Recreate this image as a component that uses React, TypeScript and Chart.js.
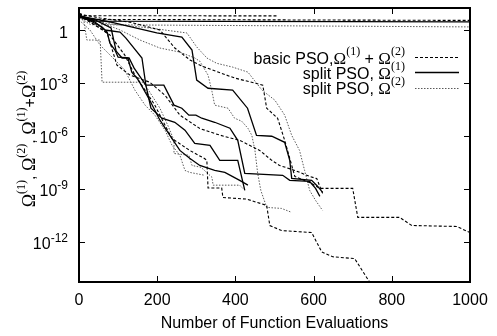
import { useEffect, useRef } from 'react';
import { Chart, registerables } from 'chart.js';

Chart.register(...registerables);

type Pt = [number, number];

// ---- axis ticks / labels ----
const xTickValues = [0, 200, 400, 600, 800, 1000];
const xTickLabels = ['0', '200', '400', '600', '800', '1000'];
const yTickValues = [1e-12, 1e-9, 1e-6, 1e-3, 1];
const yTickLabels = ['10^-12', '10^-9', '10^-6', '10^-3', '1'];
const xTitle = 'Number of Function Evaluations';
const yTitle = 'Ω^(1), Ω^(2), Ω^(1)+Ω^(2)';
const legendLabels = ['basic PSO,Ω^(1) + Ω^(2)', 'split PSO, Ω^(1)', 'split PSO, Ω^(2)'];
const xRange = [0, 1000];
const yRange = [5.2e-15, 17.7];

// ---- basic PSO, Ω(1)+Ω(2) (dashed) ----
const basicRun1: Pt[] = [[0, 9], [15, 6.5], [506, 6.3]];
const basicRun2: Pt[] = [[0, 8], [25, 4], [1000, 3.5]];
const basicRun3: Pt[] = [[0, 8], [54, 4.8], [130, 2.8], [207, 1], [245, 0.095], [284, 0.02], [314, 9e-3], [398, 1.9e-3], [470, 7.5e-4], [480, 3.7e-5], [508, 1e-5], [526, 5.6e-7], [552, 5e-9], [595, 2e-9], [616, 1.05e-9], [700, 1.05e-9], [713, 2.4e-11], [820, 2.4e-11], [851, 8.3e-12], [966, 7.3e-12], [1000, 3.3e-12]];
const basicRun4: Pt[] = [[0, 7], [41, 1.9], [79, 0.52], [117, 0.038], [143, 2.8e-3], [169, 3.9e-4], [194, 5.5e-5], [220, 4e-6], [238, 7e-7], [283, 1.5e-7], [319, 5.5e-8], [327, 4.1e-8], [330, 1.1e-9], [365, 1.1e-9], [368, 3.2e-10], [429, 2.6e-10], [455, 1.7e-10], [480, 1.15e-10], [488, 8.3e-12], [518, 4.3e-12], [595, 3.3e-12], [621, 2.6e-13], [649, 1.4e-13], [705, 1.1e-13], [750, 3e-15]];
const basicRun5: Pt[] = [[0, 6.3], [54, 1.3], [72, 0.68], [97, 0.0103], [130, 2.8e-3], [181, 1.1e-3], [220, 2e-4], [258, 1.5e-5], [309, 2.6e-6], [360, 1.1e-6], [411, 5.6e-7], [462, 1.5e-7], [493, 4.1e-8], [513, 2.1e-8], [552, 1.1e-8], [590, 5e-9], [608, 3.8e-9], [623, 5.5e-10]];

// ---- split PSO, Ω(1) (solid) ----
const split1Run1: Pt[] = [[0, 7], [40, 3.2], [1000, 2.9]];
const split1Run2: Pt[] = [[0, 5.5], [41, 2.85], [66, 1], [105, 0.77], [120, 0.35], [161, 0.026], [171, 7.5e-4], [184, 3.7e-5], [212, 1e-5], [245, 5.9e-6], [271, 2.1e-6], [296, 3.8e-7], [335, 2.9e-7], [360, 4.1e-8], [406, 4.1e-8], [424, 8.1e-10]];
const split1Run3: Pt[] = [[0, 6.3], [79, 2.85], [199, 0.68], [263, 0.4], [289, 0.073], [301, 1.45e-3], [330, 5e-4], [393, 3.9e-4], [431, 3.7e-5], [454, 1.07e-6], [493, 9.5e-7], [526, 4.3e-7], [539, 4.1e-8], [544, 3.9e-9], [595, 3e-9], [610, 1.4e-9], [623, 6.3e-10]];
const split1Run4: Pt[] = [[0, 5.5], [41, 3.7], [82, 1.3], [95, 0.064], [110, 0.026], [128, 0.026], [141, 6.9e-3], [171, 7.5e-4], [217, 7.5e-4], [243, 5.5e-5], [263, 3.7e-5], [281, 1.5e-5], [299, 1.5e-5], [314, 1e-5], [347, 5.9e-6], [386, 2.7e-6], [406, 5.6e-7], [424, 7.5e-9], [521, 5.8e-9], [539, 3e-9], [590, 2.6e-9], [605, 1.05e-9], [616, 3.7e-10]];
const split1Run5: Pt[] = [[0, 7.1], [59, 1.5], [72, 0.77], [79, 0.18], [92, 0.073], [100, 0.029], [125, 0.026], [135, 4.1e-3], [148, 1.9e-3], [156, 1e-3], [181, 1.05e-4], [207, 7.7e-6], [232, 1.1e-6], [258, 1.5e-7], [283, 5.4e-8], [309, 2.1e-8], [347, 1.1e-8], [373, 8.5e-9], [411, 3e-9], [432, 1.6e-9]];

// ---- split PSO, Ω(2) (dotted) ----
const split2Run1: Pt[] = [[0, 5], [30, 2], [1000, 1.5]];
const split2Run2: Pt[] = [[0, 8.1], [13, 2.85], [20, 0.27], [54, 0.27], [59, 1.1e-3], [164, 1.1e-3], [181, 3e-4], [207, 3.7e-5], [227, 4e-6], [243, 5.6e-7], [243, 1e-7], [281, 8e-8], [289, 2.1e-8], [312, 1.65e-8], [340, 4.5e-9], [343, 1.6e-9], [411, 1.6e-9], [419, 1.05e-9]];
const split2Run3: Pt[] = [[0, 6.3], [54, 2.85], [105, 1], [156, 0.27], [207, 0.095], [258, 0.056], [296, 0.026], [309, 0.017], [330, 2.8e-3], [340, 3.4e-4], [347, 5.5e-5], [381, 3.7e-5], [398, 1e-5], [416, 6.8e-6], [432, 2.7e-6], [442, 1.07e-6], [450, 1.5e-7], [457, 7.5e-9], [465, 8.1e-10], [480, 8.8e-11], [518, 7.7e-11], [544, 4.6e-11]];
const split2Run4: Pt[] = [[0, 4.8], [79, 2.2], [181, 1.3], [276, 0.68], [301, 0.11], [327, 0.026], [352, 0.013], [393, 7.9e-3], [432, 4.1e-3], [468, 3.9e-4], [501, 1.05e-4], [526, 1.5e-5], [544, 1.07e-6], [564, 1.5e-7], [577, 1.1e-8], [590, 8.1e-10], [605, 2.2e-10], [623, 5.9e-11]];
const split2Run5: Pt[] = [[0, 3.7], [28, 1], [54, 0.14], [92, 0.02], [117, 5.4e-3], [143, 3.9e-4], [169, 5.5e-5], [194, 1.5e-5], [220, 2.1e-6], [238, 2.9e-7], [258, 8e-8], [271, 1.1e-8], [283, 8.5e-9], [322, 5.8e-9]];

const basicRuns = [basicRun1, basicRun2, basicRun3, basicRun4, basicRun5];
const split1Runs = [split1Run1, split1Run2, split1Run3, split1Run4, split1Run5];
const split2Runs = [split2Run1, split2Run2, split2Run3, split2Run4, split2Run5];

const SANS = '"Liberation Sans", Arial, Helvetica, sans-serif';
const SERIF = '"Liberation Serif", "Times New Roman", serif';

const STYLES = [
  { color: '#000000', width: 1.1, dash: [3, 2] },
  { color: '#000000', width: 1.3, dash: [] as number[] },
  { color: '#5a5a5a', width: 1, dash: [1.5, 1.5] },
];

type Part = { t: string; f: string; dy: number };

function parseRich(s: string, size: number, omegaSize: number, supSize: number, supRaise: number): Part[] {
  const parts: Part[] = [];
  let buf = '';
  const flush = () => {
    if (buf) {
      parts.push({ t: buf, f: `${size}px ${SANS}`, dy: 0 });
      buf = '';
    }
  };
  for (let i = 0; i < s.length; i++) {
    const c = s[i];
    if (c === '^') {
      flush();
      let sup = '';
      if (s[i + 1] === '(') {
        const j = s.indexOf(')', i);
        sup = s.slice(i + 1, j + 1);
        i = j;
      } else {
        sup = s.slice(i + 1);
        i = s.length;
      }
      const serif = sup.startsWith('(');
      parts.push({ t: sup, f: `${supSize}px ${serif ? SERIF : SANS}`, dy: -supRaise });
    } else if (c === 'Ω') {
      flush();
      parts.push({ t: 'Ω', f: `${omegaSize}px ${SERIF}`, dy: 0 });
    } else {
      buf += c;
    }
  }
  flush();
  return parts;
}

function drawParts(ctx: CanvasRenderingContext2D, parts: Part[], x: number, y: number, align: 'left' | 'right' | 'center') {
  let w = 0;
  for (const p of parts) {
    ctx.font = p.f;
    w += ctx.measureText(p.t).width;
  }
  let cx = align === 'left' ? x : align === 'right' ? x - w : x - w / 2;
  ctx.textAlign = 'left';
  ctx.textBaseline = 'alphabetic';
  for (const p of parts) {
    ctx.font = p.f;
    ctx.fillText(p.t, cx, y + p.dy);
    cx += ctx.measureText(p.t).width;
  }
}

const decorPlugin = {
  id: 'decor',
  afterDraw(chart: any) {
    const { ctx, chartArea: a, scales } = chart;
    const xs = scales.x;
    const ys = scales.y;
    ctx.save();
    ctx.fillStyle = '#000';
    ctx.strokeStyle = '#000';
    ctx.setLineDash([]);
    ctx.lineWidth = 2;
    ctx.strokeRect(a.left, a.top, a.right - a.left, a.bottom - a.top);

    ctx.lineWidth = 1;
    const tl = 6;
    xTickValues.forEach((v, i) => {
      const px = Math.round(xs.getPixelForValue(v)) + 0.5;
      if (v > xRange[0] && v < xRange[1]) {
        ctx.beginPath();
        ctx.moveTo(px, a.bottom);
        ctx.lineTo(px, a.bottom - tl);
        ctx.moveTo(px, a.top);
        ctx.lineTo(px, a.top + tl);
        ctx.stroke();
      }
      ctx.font = `16px ${SANS}`;
      ctx.textAlign = 'center';
      ctx.textBaseline = 'alphabetic';
      ctx.fillText(xTickLabels[i], xs.getPixelForValue(v), 305);
    });
    yTickValues.forEach((v, i) => {
      const py = Math.round(ys.getPixelForValue(v)) + 0.5;
      ctx.beginPath();
      ctx.moveTo(a.left, py);
      ctx.lineTo(a.left + tl, py);
      ctx.moveTo(a.right, py);
      ctx.lineTo(a.right - tl, py);
      ctx.stroke();
      const lab = yTickLabels[i];
      const parts = parseRich(lab, 16, 16, 12, 7);
      const base = ys.getPixelForValue(v) + (lab.includes('^') ? 7 : 8);
      drawParts(ctx, parts, 68, base, 'right');
    });

    // x title
    ctx.font = `16px ${SANS}`;
    ctx.textAlign = 'center';
    ctx.fillText(xTitle, (a.left + a.right) / 2, 328);

    // y title (rotated)
    ctx.save();
    ctx.translate(35, 139);
    ctx.rotate(-Math.PI / 2);
    drawParts(ctx, parseRich(yTitle, 16, 18, 12, 10), 0, 0, 'center');
    ctx.restore();

    // legend
    const baselines = [64, 79, 94];
    const sampleY = [57, 72, 88];
    legendLabels.forEach((lab, i) => {
      ctx.fillStyle = '#000';
      drawParts(ctx, parseRich(lab, 16, 17, 12, 9), 405, baselines[i], 'right');
      const st = STYLES[i];
      ctx.strokeStyle = st.color;
      ctx.lineWidth = st.width;
      ctx.setLineDash(st.dash);
      ctx.beginPath();
      ctx.moveTo(415, sampleY[i] + 0.5);
      ctx.lineTo(459, sampleY[i] + 0.5);
      ctx.stroke();
    });
    ctx.restore();
  },
};

export default function App() {
  const ref = useRef<HTMLCanvasElement | null>(null);
  useEffect(() => {
    if (!ref.current) return;
    const groups = [basicRuns, split1Runs, split2Runs];
    const datasets: any[] = [];
    groups.forEach((runs, gi) => {
      const st = STYLES[gi];
      runs.forEach((run) => {
        datasets.push({
          data: run.map(([x, y]) => ({ x, y })),
          borderColor: st.color,
          borderWidth: st.width,
          borderDash: st.dash,
          pointRadius: 0,
          fill: false,
          tension: 0,
        });
      });
    });
    const chart = new Chart(ref.current, {
      type: 'line',
      data: { datasets },
      options: {
        responsive: false,
        animation: false,
        events: [],
        layout: { padding: { left: 79, top: 8, right: 27, bottom: 54 } },
        plugins: { legend: { display: false }, tooltip: { enabled: false }, title: { display: false } },
        scales: {
          x: { type: 'linear', display: false, min: xRange[0], max: xRange[1], bounds: 'data' },
          y: { type: 'logarithmic', display: false, min: yRange[0], max: yRange[1], bounds: 'data' },
        },
      },
      plugins: [decorPlugin],
    } as any);
    return () => chart.destroy();
  }, []);
  return (
    <div style={{ position: 'absolute', left: 0, top: 0, width: 497, height: 336, background: '#fff' }}>
      <canvas ref={ref} width={497} height={336} style={{ display: 'block' }} />
    </div>
  );
}
